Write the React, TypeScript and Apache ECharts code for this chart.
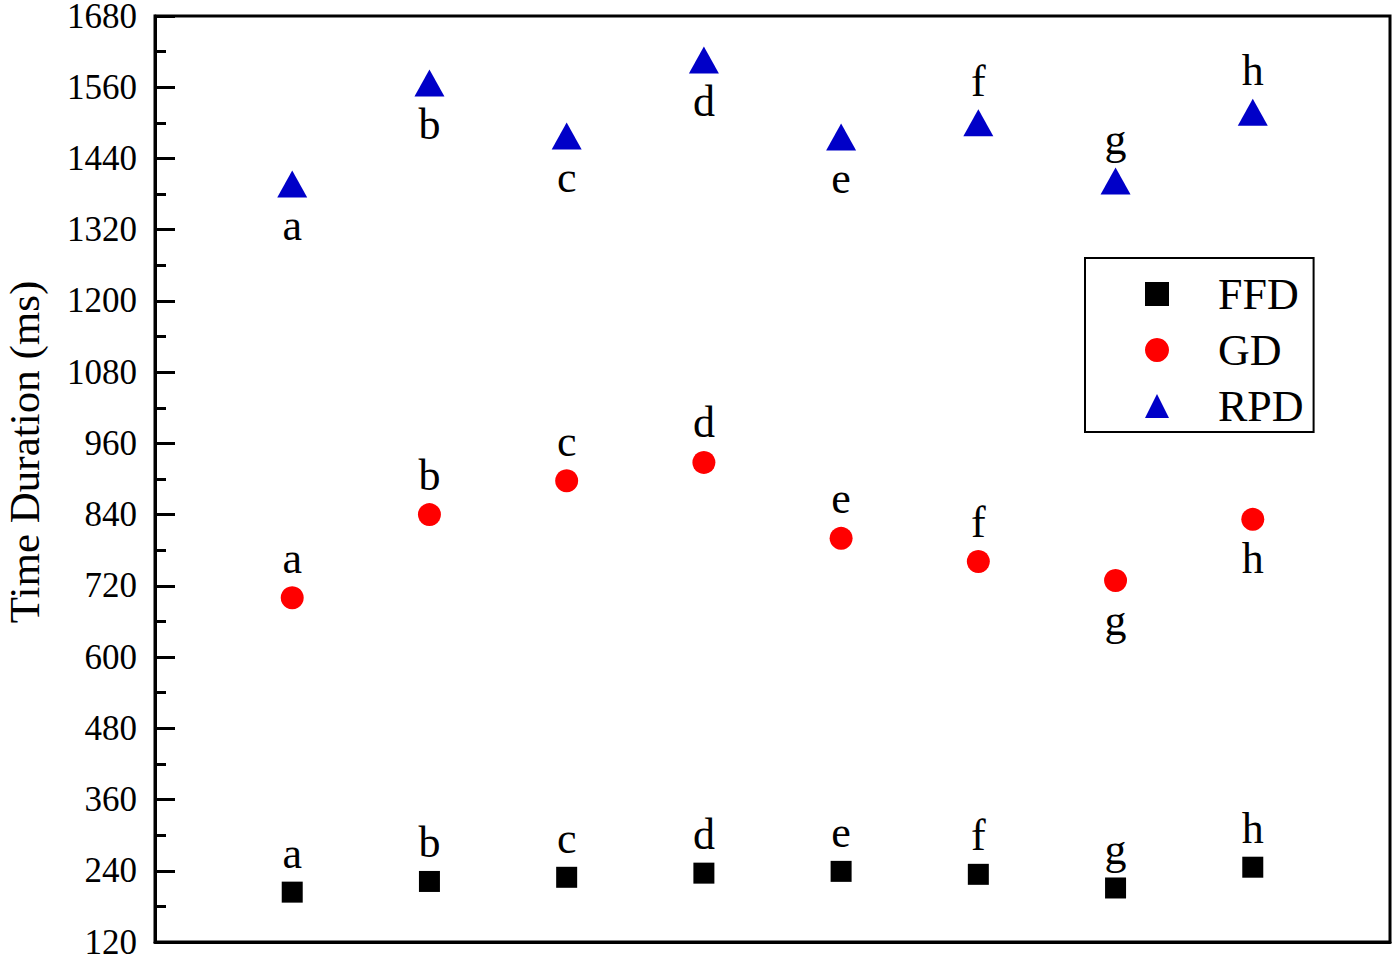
import React, { useEffect, useRef } from "react";
import * as echarts from "echarts";

const letters = ["a", "b", "c", "d", "e", "f", "g", "h"];
const xPositions = [1, 2, 3, 4, 5, 6, 7, 8];
const ffdValues = [204, 222, 229, 236, 239, 234, 211, 246];
const gdValues = [700, 840, 897, 928, 800, 761, 729, 832];
const rpdValues = [1397, 1567, 1478, 1606, 1476, 1500, 1402, 1518];
const ffdLabelSide = ["top", "top", "top", "top", "top", "top", "top", "top"];
const gdLabelSide = ["top", "top", "top", "top", "top", "top", "bottom", "bottom"];
const rpdLabelSide = ["bottom", "bottom", "bottom", "bottom", "bottom", "top", "top", "top"];
const yMin = 120;
const yMax = 1680;
const yInterval = 120;
const yTitle = "Time Duration (ms)";

const FONT = "'Liberation Serif', 'Times New Roman', serif";

function buildData(values: number[], sides: string[]) {
  return values.map((v, i) => ({
    value: [xPositions[i], v],
    name: letters[i],
    label: { position: sides[i] },
  }));
}

export default function App() {
  const ref = useRef<HTMLDivElement>(null);
  useEffect(() => {
    if (!ref.current) return;
    const chart = echarts.init(ref.current, null, { renderer: "svg" });
    const labelCfg = {
      show: true,
      formatter: (p: any) => p.name,
      fontFamily: FONT,
      fontSize: 44,
      color: "#000",
      distance: 6,
    };
    chart.setOption({
      animation: false,
      backgroundColor: "#fff",
      grid: {
        left: 155,
        top: 16,
        right: 6,
        bottom: 12,
        outerBoundsMode: "none",
        containLabel: false,
        show: true,
        borderColor: "#000",
        borderWidth: 3,
      },
      graphic: [
        {
          type: "text",
          x: 24,
          y: 452,
          rotation: Math.PI / 2,
          style: {
            text: yTitle,
            fontFamily: FONT,
            fontSize: 43,
            fill: "#000",
            align: "center",
            verticalAlign: "middle",
          },
        },
      ],
      legend: {
        orient: "vertical",
        left: 1085,
        top: 258,
        borderColor: "#000",
        borderWidth: 2,
        padding: [14, 10, 4, 60],
        itemWidth: 24,
        itemHeight: 24,
        itemGap: 12,
        textStyle: {
          fontFamily: FONT,
          fontSize: 44,
          color: "#000",
          padding: [0, 0, 0, 44],
        },
        data: ["FFD", "GD", "RPD"],
      },
      xAxis: {
        type: "value",
        min: 0,
        max: 9,
        axisLine: { show: true, lineStyle: { color: "#000", width: 3 } },
        axisTick: { show: false },
        axisLabel: { show: false },
        splitLine: { show: false },
      },
      yAxis: {
        type: "value",
        min: yMin,
        max: yMax,
        interval: yInterval,
        axisLine: { show: true, lineStyle: { color: "#000", width: 3 } },
        axisTick: {
          show: true,
          inside: true,
          length: 20,
          lineStyle: { color: "#000", width: 3 },
        },
        minorTick: {
          show: true,
          splitNumber: 2,
          length: 11,
          lineStyle: { color: "#000", width: 3 },
        },
        axisLabel: {
          fontFamily: FONT,
          fontSize: 35,
          color: "#000",
          margin: 18,
          formatter: (v: number) => String(v),
        },
        splitLine: { show: false },
      },
      series: [
        {
          name: "FFD",
          type: "scatter",
          symbol: "rect",
          symbolSize: 21,
          itemStyle: { color: "#000", opacity: 1 },
          label: labelCfg,
          data: buildData(ffdValues, ffdLabelSide),
        },
        {
          name: "GD",
          type: "scatter",
          symbol: "circle",
          symbolSize: 23,
          itemStyle: { color: "#ff0000", opacity: 1 },
          label: labelCfg,
          data: buildData(gdValues, gdLabelSide),
        },
        {
          name: "RPD",
          type: "scatter",
          symbol: "triangle",
          symbolSize: [30, 27],
          itemStyle: { color: "#0000c8", opacity: 1 },
          label: labelCfg,
          data: buildData(rpdValues, rpdLabelSide),
        },
      ],
    });
    return () => chart.dispose();
  }, []);
  return (
    <div
      ref={ref}
      style={{ position: "fixed", left: 0, top: 0, width: 1396, height: 954 }}
    />
  );
}
